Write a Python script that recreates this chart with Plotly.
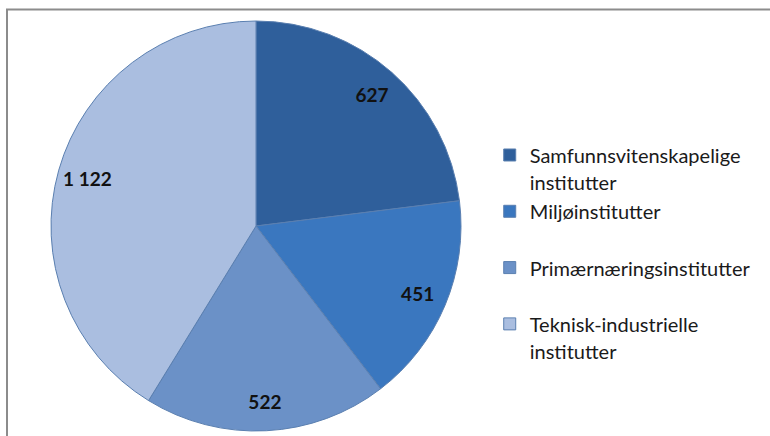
import plotly.graph_objects as go

categories = ["Samfunnsvitenskapelige<br>institutter", "Miljøinstitutter", "Primærnæringsinstitutter",
              "Teknisk-industrielle<br>institutter"]
values = [627, 451, 522, 1122]
value_labels = ["627", "451", "522", "1 122"]
colors = ["#2f5f9b", "#3a77bf", "#6b91c7", "#aabee0"]

# legend text: pad single-line entries so every entry takes two lines
legend_names = []
for c in categories:
    t = c if "<br>" in c else c + "<br> "
    parts = t.split("<br>")
    legend_names.append("<br>".join("<span style='font-size:20px'>%s</span>" % p for p in parts))

R = 205
cx, cy = 256, 226
W, H = 770, 436
dom_x = [(cx - R) / W, (cx + R) / W]
dom_y = [(H - cy - R) / H, (H - cy + R) / H]

fig = go.Figure()
fig.add_trace(go.Pie(
    labels=legend_names, values=values, sort=False, direction="clockwise", rotation=0,
    marker=dict(colors=colors, line=dict(color="#5a7fb0", width=1)),
    textinfo="none", hoverinfo="label+value", domain=dict(x=dom_x, y=dom_y),
    showlegend=True,
))
fig.add_trace(go.Pie(
    labels=legend_names, values=values, sort=False, direction="clockwise", rotation=0,
    hole=0.71, marker=dict(colors=["rgba(0,0,0,0)"] * 4, line=dict(width=0)),
    text=value_labels, textinfo="text", textposition="inside", insidetextorientation="horizontal",
    textfont=dict(family="Lato, Open Sans, sans-serif", size=19, color="#111111", weight="bold"),
    hoverinfo="skip", domain=dict(x=dom_x, y=dom_y), showlegend=False,
))

fig.update_layout(
    width=W, height=H, margin=dict(l=0, r=0, t=0, b=0),
    paper_bgcolor="white", plot_bgcolor="white",
    legend=dict(x=0.636, y=0.69, xanchor="left", yanchor="top", valign="top",
                font=dict(family="Lato, Open Sans, sans-serif", size=20.5, color="#1a1a1a"),
                bgcolor="rgba(0,0,0,0)"),
    shapes=[dict(type="rect", xref="paper", yref="paper", x0=7 / W, x1=1.02, y0=-0.05, y1=1 - 9.5 / H,
                 line=dict(color="#8c8c8c", width=2), fillcolor="rgba(0,0,0,0)", layer="below")],
)
fig.write_html("out.html", config={"displayModeBar": False},
               post_script="document.body.style.margin='0';document.body.style.overflow='hidden';")
